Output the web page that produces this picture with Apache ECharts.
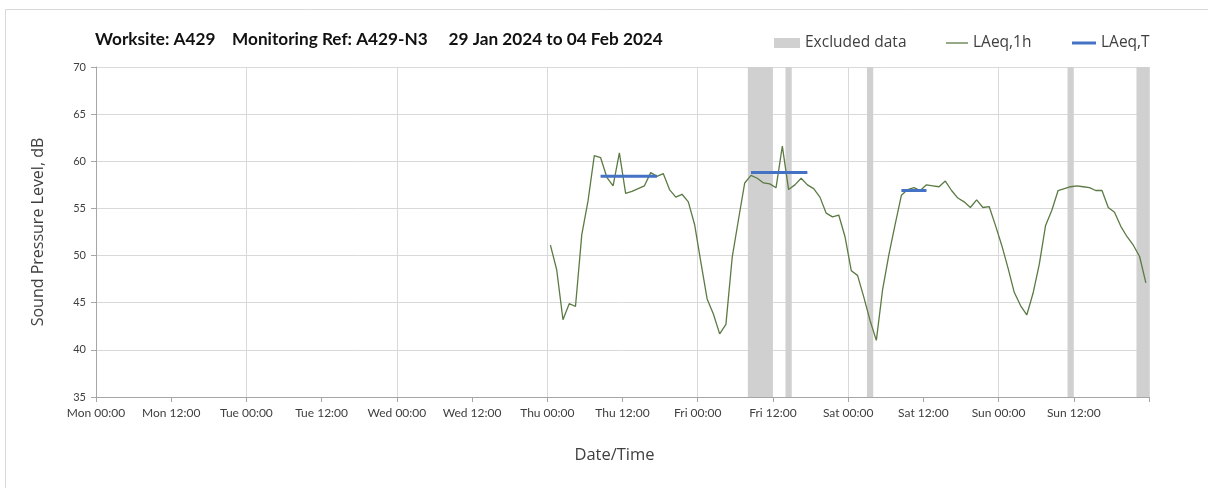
<!DOCTYPE html>
<html>
<head>
<meta charset="utf-8">
<title>Worksite A429 – Monitoring Ref A429-N3</title>
<script src="https://cdn.jsdelivr.net/npm/echarts@6/dist/echarts.min.js"></script>
<style>
  html, body { margin: 0; padding: 0; background: #ffffff; }
  #chart { width: 1208px; height: 488px; }
</style>
</head>
<body>
<div id="chart"></div>
<script>
// Hours are counted from Monday 00:00 of the monitoring week.
const dayNames = ['Mon', 'Tue', 'Wed', 'Thu', 'Fri', 'Sat', 'Sun'];
const tickHours = ['00:00', '12:00'];

// Hourly LAeq,1h values (dB), first value centred on Thu 00:30, one per hour.
const laeq1hStartHour = 72.5;
const laeq1hValues = [
  51.1, 48.5, 43.2, 44.9, 44.6, 52.2, 55.8, 60.6, 60.4, 58.3, 57.4, 60.9,
  56.6, 56.8, 57.1, 57.4, 58.8, 58.4, 58.7, 57.0, 56.2, 56.5, 55.7, 53.3,
  49.3, 45.4, 43.8, 41.7, 42.7, 49.8, 53.8, 57.7, 58.5, 58.2, 57.7, 57.6,
  57.2, 61.6, 57.0, 57.5, 58.2, 57.5, 57.1, 56.2, 54.5, 54.1, 54.3, 52.0,
  48.4, 47.9, 45.6, 43.1, 41.0, 46.4, 50.1, 53.3, 56.4, 57.0, 57.2, 56.9,
  57.5, 57.4, 57.3, 57.9, 56.9, 56.1, 55.7, 55.1, 55.9, 55.1, 55.2, 53.2,
  51.1, 48.7, 46.1, 44.7, 43.7, 46.0, 49.1, 53.2, 54.8, 56.9, 57.1, 57.3,
  57.4, 57.3, 57.2, 56.9, 56.9, 55.1, 54.6, 53.1, 52.0, 51.1, 49.9, 47.1
];

// Period LAeq,T levels (dB) with the hours each period spans.
const laeqTStart = [80.5, 104.5, 128.5];
const laeqTEnd   = [89.5, 113.5, 132.5];
const laeqTValue = [58.4, 58.8, 56.9];

// Excluded data windows (hours from Monday 00:00).
const excludedStart = [104, 110, 123, 155, 166];
const excludedEnd   = [108, 111, 124, 156, 168];

// Axis ranges.
const xMin = 0, xMax = 168, xStep = 12, xGridStep = 24;
const yMin = 35, yMax = 70, yStep = 5;

const TITLE_FONT = 'Lato, "Open Sans", sans-serif';
const FONT = '"Open Sans", Lato, "DejaVu Sans", sans-serif';
const TICK_FONT = 'Lato, "Open Sans", sans-serif';
const TEXT = '#404040';
const AXIS = '#a6a6a6';
const GRID = '#d9d9d9';
const GREEN = '#5b7a44';
const BLUE = '#4472c4';
const EXCLUDED = '#d0d0d0';

const laeq1hData = laeq1hValues.map((v, i) => [laeq1hStartHour + i, v]);

const laeqTData = [];
laeqTValue.forEach((v, i) => {
  if (i > 0) laeqTData.push([laeqTStart[i], '-']);
  laeqTData.push([laeqTStart[i], v], [laeqTEnd[i], v]);
});

const excludedData = excludedStart.map((s, i) => [s, excludedEnd[i]]);

function timeLabel(value) {
  if (value >= xMax) return '';
  const day = dayNames[Math.floor(value / 24) % 7];
  const half = Math.round((value % 24) / 12);
  return day + ' ' + tickHours[half];
}

const legendText = { fontFamily: FONT, fontSize: 15.5, color: TEXT };

const chart = echarts.init(document.getElementById('chart'), null, { renderer: 'canvas' });

chart.setOption({
  animation: false,
  backgroundColor: '#ffffff',
  textStyle: { fontFamily: FONT },
  graphic: [{
    type: 'rect',
    silent: true,
    shape: { x: 5.5, y: 9.5, width: 1300, height: 600 },
    style: { fill: 'none', stroke: '#d9d9d9', lineWidth: 1 }
  }],
  title: {
    text: 'Worksite: A429    Monitoring Ref: A429-N3     29 Jan 2024 to 04 Feb 2024',
    left: 95,
    top: 31,
    padding: 0,
    textStyle: { fontFamily: TITLE_FONT, fontSize: 17.2, fontWeight: 'bold', color: '#111111' }
  },
  // one legend block per entry so each key gets its own swatch shape
  legend: [{
    left: 774, top: 35, padding: 0,
    itemWidth: 26, itemHeight: 10,
    textStyle: legendText,
    data: [{ name: 'Excluded data', icon: 'rect' }]
  }, {
    left: 946, top: 35, padding: 0,
    itemWidth: 22, itemHeight: 1.3,
    textStyle: legendText,
    data: [{ name: 'LAeq,1h', icon: 'rect' }]
  }, {
    left: 1072, top: 35, padding: 0,
    itemWidth: 24, itemHeight: 3,
    textStyle: legendText,
    data: [{ name: 'LAeq,T', icon: 'rect' }]
  }],
  grid: { left: 96, right: 59, top: 67, bottom: 91, containLabel: false },
  xAxis: [{
    type: 'value',
    min: xMin,
    max: xMax,
    interval: xStep,
    name: 'Date/Time',
    nameLocation: 'middle',
    nameGap: 50,
    nameTextStyle: { fontFamily: FONT, fontSize: 16.5, color: TEXT, padding: [0, 16, 0, 0] },
    axisLine: { show: true, lineStyle: { color: AXIS, width: 1 } },
    axisTick: { show: true, length: 5, lineStyle: { color: AXIS } },
    axisLabel: {
      fontFamily: TICK_FONT, fontSize: 12, color: TEXT, margin: 10,
      showMaxLabel: true, formatter: timeLabel
    },
    splitLine: { show: false }
  }, {
    // daily gridlines only
    type: 'value',
    min: xMin,
    max: xMax,
    interval: xGridStep,
    position: 'bottom',
    axisLine: { show: false },
    axisTick: { show: false },
    axisLabel: { show: false },
    splitLine: { show: true, lineStyle: { color: GRID, width: 1 } }
  }],
  yAxis: {
    type: 'value',
    min: yMin,
    max: yMax,
    interval: yStep,
    name: 'Sound Pressure Level, dB',
    nameLocation: 'middle',
    nameGap: 50,
    nameTextStyle: { fontFamily: FONT, fontSize: 16, color: TEXT },
    axisLine: { show: true, lineStyle: { color: AXIS, width: 1 } },
    axisTick: { show: true, length: 5, lineStyle: { color: AXIS } },
    axisLabel: { fontFamily: TICK_FONT, fontSize: 11, color: TEXT, margin: 10 },
    splitLine: { show: true, lineStyle: { color: GRID, width: 1 } }
  },
  series: [{
    name: 'Excluded data',
    type: 'custom',
    xAxisIndex: 0,
    z: 1,
    color: EXCLUDED,
    itemStyle: { color: EXCLUDED },
    encode: { x: [0, 1] },
    renderItem: function (params, api) {
      const p0 = api.coord([api.value(0), yMax]);
      const p1 = api.coord([api.value(1), yMin]);
      return {
        type: 'rect',
        shape: { x: p0[0], y: p0[1], width: p1[0] - p0[0], height: p1[1] - p0[1] },
        style: { fill: EXCLUDED }
      };
    },
    data: excludedData
  }, {
    name: 'LAeq,1h',
    type: 'line',
    xAxisIndex: 0,
    z: 3,
    symbol: 'none',
    color: GREEN,
    lineStyle: { color: GREEN, width: 1.3 },
    data: laeq1hData
  }, {
    name: 'LAeq,T',
    type: 'line',
    xAxisIndex: 0,
    z: 4,
    symbol: 'none',
    connectNulls: false,
    color: BLUE,
    lineStyle: { color: BLUE, width: 3 },
    data: laeqTData
  }]
});
</script>
</body>
</html>
